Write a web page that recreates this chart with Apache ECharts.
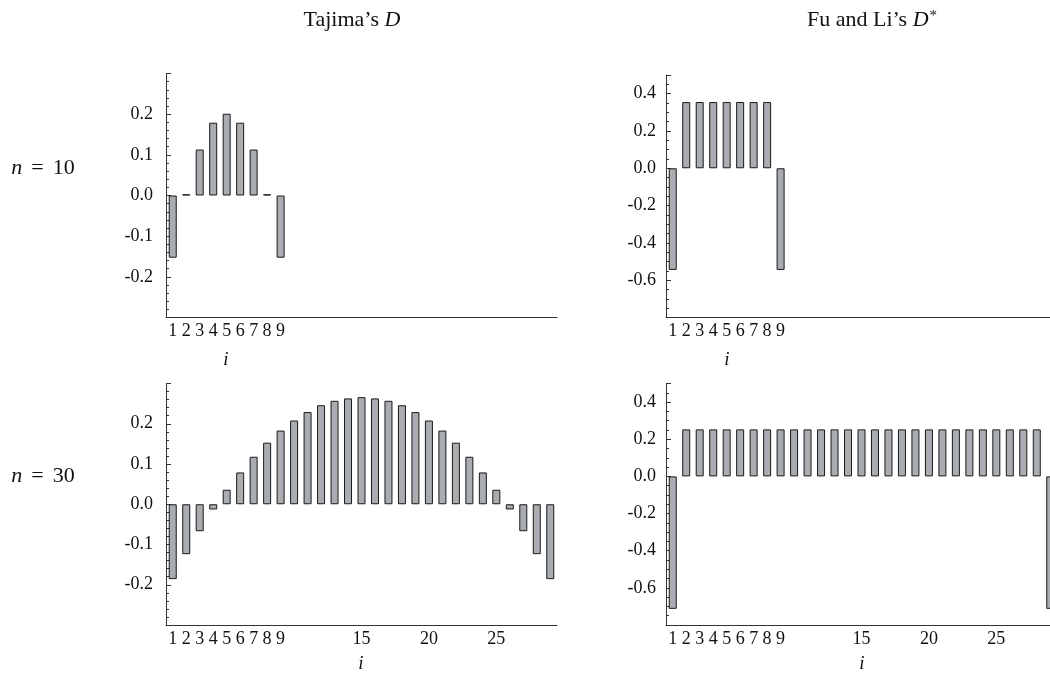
<!DOCTYPE html>
<html>
<head>
<meta charset="utf-8">
<script src="https://cdn.jsdelivr.net/npm/echarts@6/dist/echarts.min.js"></script>
<style>
  html, body { margin: 0; padding: 0; background: #fff; }
  #main { width: 1050px; height: 679px; }
</style>
</head>
<body>
<div id="main"></div>
<script>
// i = 1 .. n-1 (same x scale for both rows)
var categories = ['1','2','3','4','5','6','7','8','9','10','11','12','13','14','15',
  '16','17','18','19','20','21','22','23','24','25','26','27','28','29'];
var xLabelsTop = ['1','2','3','4','5','6','7','8','9'];
var xLabelsBottom = ['1','2','3','4','5','6','7','8','9','15','20','25'];

// n = 10
var tajima10 = [-0.153, 0.003, 0.113, 0.179, 0.201, 0.179, 0.113, 0.003, -0.153];
var fuli10 = [-0.545, 0.355, 0.355, 0.355, 0.355, 0.355, 0.355, 0.355, -0.545];

// n = 30
var tajima30 = [-0.186, -0.124, -0.067, -0.013, 0.036, 0.079, 0.118, 0.153, 0.183, 0.208,
  0.229, 0.246, 0.257, 0.263, 0.266, 0.263, 0.257, 0.246, 0.229, 0.208,
  0.183, 0.153, 0.118, 0.079, 0.036, -0.013, -0.067, -0.124, -0.186];
var fuli30 = [-0.713, 0.253, 0.253, 0.253, 0.253, 0.253, 0.253, 0.253, 0.253, 0.253,
  0.253, 0.253, 0.253, 0.253, 0.253, 0.253, 0.253, 0.253, 0.253, 0.253,
  0.253, 0.253, 0.253, 0.253, 0.253, 0.253, 0.253, 0.253, -0.713];

var yLabelsLeft = [-0.2, -0.1, 0, 0.1, 0.2];
var yLabelsRight = [-0.6, -0.4, -0.2, 0, 0.2, 0.4];

var FONT = 'Liberation Serif';
var INK = '#111';

var chart = echarts.init(document.getElementById('main'));

function xAxis(gridIndex, labels, tickCount) {
  return {
    type: 'category', gridIndex: gridIndex, data: categories, boundaryGap: true,
    axisLine: { onZero: false, lineStyle: { color: '#333', width: 1 } },
    axisTick: {
      inside: true, length: 4, alignWithLabel: true,
      interval: function (idx) { return idx < tickCount; },
      lineStyle: { color: '#333' }
    },
    axisLabel: {
      margin: 5, color: INK, fontFamily: FONT, fontSize: 18,
      interval: function (idx, val) { return labels.indexOf(val) >= 0; }
    },
    splitLine: { show: false }
  };
}

function yAxis(gridIndex, min, max, step, split, labels, margin) {
  return {
    type: 'value', gridIndex: gridIndex, min: min, max: max, interval: step,
    axisLine: { show: true, lineStyle: { color: '#333', width: 1 } },
    axisTick: { show: true, inside: true, length: 5, lineStyle: { color: '#333' } },
    minorTick: { show: true, splitNumber: split, length: 3, lineStyle: { color: '#333' } },
    axisLabel: {
      margin: margin, color: INK, fontFamily: FONT, fontSize: 18,
      showMinLabel: true, showMaxLabel: true,
      formatter: function (v) {
        for (var k = 0; k < labels.length; k++) {
          if (Math.abs(labels[k] - v) < 1e-6) return labels[k].toFixed(1);
        }
        return '';
      }
    },
    splitLine: { show: false }
  };
}

function bars(idx, data) {
  return {
    type: 'bar', xAxisIndex: idx, yAxisIndex: idx, data: data, barWidth: 8,
    itemStyle: { color: '#a9acb1', borderColor: '#1a1a1a', borderWidth: 1 },
    silent: true, animation: false
  };
}

function txt(x, y, text, size) {
  size = size || 22;
  return {
    type: 'text', x: x, y: y, silent: true,
    style: {
      text: text, fill: INK, fontFamily: FONT, fontSize: size,
      align: 'center', verticalAlign: 'middle',
      rich: {
        it: { fontStyle: 'italic', fontFamily: FONT, fontSize: size, fill: INK },
        eq: { fontFamily: FONT, fontSize: size, fill: INK, padding: [0, 9, 0, 9] },
        sup: { fontFamily: FONT, fontSize: 15, fill: INK, verticalAlign: 'top', padding: [0, 0, 7, 1] }
      }
    }
  };
}

chart.setOption({
  backgroundColor: '#fff',
  animation: false,
  grid: [
    { left: 166, top: 73.5, width: 391, height: 244, outerBoundsMode: 'none' },
    { left: 666, top: 75, width: 391, height: 242.5, outerBoundsMode: 'none' },
    { left: 166, top: 383.5, width: 391, height: 241.5, outerBoundsMode: 'none' },
    { left: 666, top: 383.5, width: 391, height: 241.5, outerBoundsMode: 'none' }
  ],
  xAxis: [
    xAxis(0, xLabelsTop, 9),
    xAxis(1, xLabelsTop, 9),
    xAxis(2, xLabelsBottom, 29),
    xAxis(3, xLabelsBottom, 29)
  ],
  yAxis: [
    yAxis(0, -0.3, 0.3, 0.1, 5, yLabelsLeft, 13),
    yAxis(1, -0.8, 0.5, 0.2, 4, yLabelsRight, 10),
    yAxis(2, -0.3, 0.3, 0.1, 5, yLabelsLeft, 13),
    yAxis(3, -0.8, 0.5, 0.2, 4, yLabelsRight, 10)
  ],
  series: [
    bars(0, tajima10),
    bars(1, fuli10),
    bars(2, tajima30),
    bars(3, fuli30)
  ],
  graphic: [
    txt(352, 20, 'Tajima’s {it|D}'),
    txt(872, 20, 'Fu and Li’s {it|D}{sup|*}'),
    txt(43, 168, '{it|n}{eq|=}10'),
    txt(43, 476, '{it|n}{eq|=}30'),
    txt(226, 360, '{it|i}', 19),
    txt(727, 360, '{it|i}', 19),
    txt(361, 664, '{it|i}', 19),
    txt(862, 664, '{it|i}', 19)
  ]
});
</script>
</body>
</html>
